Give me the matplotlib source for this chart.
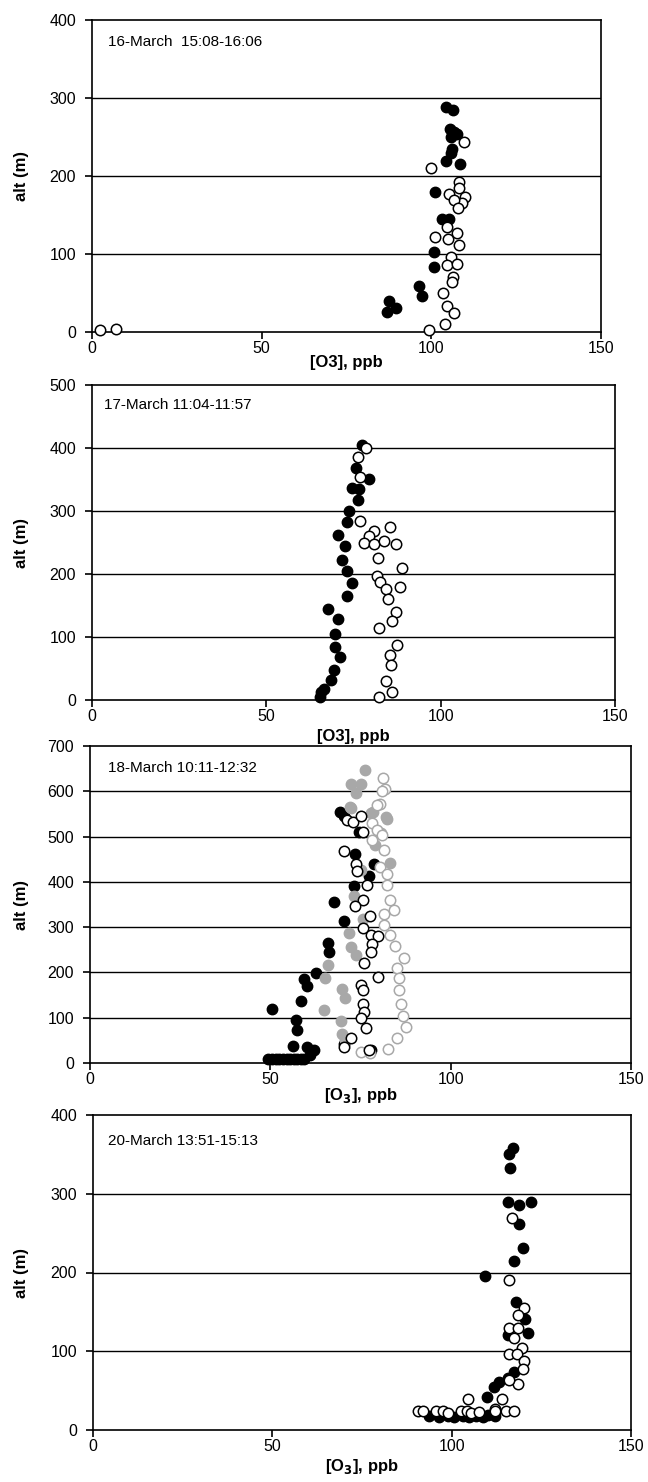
import matplotlib
matplotlib.use("Agg")
import matplotlib.pyplot as plt

plt.rcParams['font.family'] = ['Liberation Sans', 'DejaVu Sans']

# ---------------- Panel 1: 16-March ----------------
p1_fill_x = [104.3, 106.4, 105.6, 106.6, 105.9, 107.6, 106.1, 105.7, 104.3, 108.5,
             101.2, 103.0, 105.3, 100.7, 100.7, 96.5, 97.2, 87.6, 89.6, 86.9]
p1_fill_y = [288, 284, 260, 256, 250, 254, 234, 230, 219, 216,
             179, 145, 145, 103, 83, 59, 46, 40, 31, 26]
p1_open_x = [109.5, 100.0, 108.3, 108.3, 109.8, 105.1, 109.0, 106.6, 107.9, 104.6,
             101.2, 105.0, 107.6, 108.3, 105.9, 104.6, 107.6, 106.4, 106.1, 103.4,
             104.6, 106.6, 103.9, 99.4, 2.5, 7.2]
p1_open_y = [243, 210, 192, 185, 173, 177, 166, 169, 159, 134,
             122, 119, 127, 112, 96, 86, 87, 70, 64, 50,
             33, 24, 10, 3, 3, 4]

# ---------------- Panel 2: 17-March ----------------
p2_fill_x = [77.3, 75.8, 79.4, 74.6, 76.5, 76.3, 73.6, 73.0, 70.5, 72.7,
             71.7, 73.0, 74.6, 73.2, 67.6, 70.5, 69.8, 69.8, 71.1, 69.5,
             68.5, 66.5, 65.8, 65.5]
p2_fill_y = [405, 368, 351, 337, 335, 318, 300, 283, 262, 245,
             223, 205, 185, 165, 144, 128, 104, 84, 68, 48,
             32, 17, 12, 4]
p2_open_x = [78.7, 76.2, 76.8, 76.8, 81.0, 85.4, 79.4, 77.9, 80.8, 83.7,
             87.3, 82.0, 88.9, 81.6, 82.7, 88.3, 84.4, 84.8, 87.3, 86.1,
             82.2, 87.5, 85.4, 85.8, 84.3, 85.9, 82.2]
p2_open_y = [400, 386, 354, 284, 268, 275, 261, 249, 247, 253,
             248, 226, 209, 197, 188, 180, 176, 160, 139, 125,
             115, 88, 71, 55, 30, 12, 4]

# ---------------- Panel 3: 18-March ----------------
p3_fill_x = [69.4, 70.3, 74.6, 73.4, 78.8, 77.4, 73.1, 67.7, 70.5, 65.9,
             66.3, 62.6, 59.2, 60.1, 58.5, 50.6, 57.1, 57.4, 56.2, 60.1,
             62.2, 61.1, 77.9, 70.5,
             49.4, 50.5, 51.5, 52.5, 53.5, 54.5, 55.5, 56.5, 57.5, 58.5, 59.4]
p3_fill_y = [554, 545, 511, 462, 439, 412, 390, 356, 314, 265,
             245, 198, 185, 171, 138, 120, 96, 73, 38, 35,
             29, 18, 29, 42,
             9, 8, 9, 8, 9, 8, 9, 8, 9, 8, 9]
p3_gfill_x = [76.2, 72.5, 75.0, 72.0, 78.0, 82.2, 80.8, 79.0, 73.7, 72.5,
              78.6, 82.3, 75.1, 83.2, 73.2, 75.6, 71.9, 72.4, 73.7, 65.9,
              65.1, 70.0, 70.7, 65.0, 69.6, 70.0, 70.7]
p3_gfill_y = [646, 615, 615, 566, 553, 544, 508, 481, 596, 562,
              555, 539, 426, 441, 368, 319, 287, 256, 238, 216,
              188, 164, 143, 118, 93, 64, 51]
p3_open_x = [71.2, 72.8, 75.1, 75.6, 70.3, 73.7, 74.0, 76.9, 75.6, 73.4,
             77.7, 75.6, 77.9, 79.8, 78.1, 77.9, 76.0, 79.8, 75.1, 75.8,
             75.6, 76.0, 75.1, 76.5, 72.5, 70.5, 77.4]
p3_open_y = [536, 533, 545, 511, 468, 439, 423, 393, 359, 346,
             325, 298, 283, 280, 262, 245, 221, 189, 173, 161,
             131, 113, 100, 78, 55, 36, 29]
p3_gopen_x = [81.2, 81.7, 80.3, 80.9, 79.7, 78.3, 79.5, 80.9, 78.3, 81.4,
              80.4, 82.3, 82.3, 83.2, 84.3, 81.5, 81.5, 83.2, 84.6, 87.1,
              85.1, 85.7, 85.7, 86.2, 86.9, 87.5, 85.1, 82.7, 75.1, 77.7]
p3_gopen_y = [630, 604, 573, 600, 569, 529, 515, 504, 493, 470,
              432, 417, 393, 359, 337, 328, 305, 283, 258, 232,
              209, 187, 161, 131, 104, 79, 55, 30, 24, 21]

# ---------------- Panel 4: 20-March ----------------
p4_fill_x = [117.0, 116.1, 116.4, 115.6, 118.7, 122.1, 118.9, 120.0, 117.5, 109.4,
             118.0, 120.5, 115.6, 121.2, 117.5, 115.6, 113.3, 111.9, 109.8,
             93.8, 96.6, 98.9, 100.7, 103.1, 104.9, 106.8, 108.6, 110.0, 112.2]
p4_fill_y = [358, 350, 333, 289, 286, 289, 261, 231, 215, 195,
             163, 141, 121, 123, 74, 66, 61, 54, 42,
             18, 17, 18, 16, 18, 17, 18, 17, 19, 18]
p4_open_x = [116.8, 115.9, 120.3, 118.4, 116.1, 118.4, 117.5, 119.6, 116.1, 118.2,
             120.3, 119.8, 118.4, 115.9, 114.0, 112.2, 104.5,
             90.5, 91.9, 95.6, 97.5, 98.9, 102.6, 104.2, 105.4, 107.7, 112.2,
             115.1, 117.5]
p4_open_y = [269, 191, 155, 146, 129, 130, 117, 104, 97, 96,
             87, 77, 59, 64, 39, 27, 39,
             24, 24, 24, 24, 22, 24, 24, 22, 23, 24,
             24, 24]

titles = ["16-March  15:08-16:06", "17-March 11:04-11:57",
          "18-March 10:11-12:32", "20-March 13:51-15:13"]
xlabels = ["[O3], ppb", "[O3], ppb", "[O$_\\mathbf{3}$], ppb", "[O$_\\mathbf{3}$], ppb"]
ymax = [400, 500, 700, 400]

W, H = 648, 1482
fig = plt.figure(figsize=(W / 100, H / 100), dpi=100)

# axes boxes in pixels: left, right, top, bottom
boxes = [(92, 601, 20, 332), (92, 615, 385, 700), (90, 631, 746, 1063), (93, 631, 1115, 1430)]
labelpads = [-0.5, 3.5, -0.5, 2.5]
title_pos = [(0.032, 0.928), (0.022, 0.935), (0.033, 0.930), (0.028, 0.918)]

fill_kw = dict(marker='o', linestyle='none', ms=7.5, mfc='black', mec='black', mew=1.0)
open_kw = dict(marker='o', linestyle='none', ms=7.5, mfc='white', mec='black', mew=1.1)
gfill_kw = dict(marker='o', linestyle='none', ms=7.5, mfc='#a8a8a8', mec='#a8a8a8', mew=1.0)
gopen_kw = dict(marker='o', linestyle='none', ms=7.5, mfc='white', mec='#a8a8a8', mew=1.1)

axes = []
for i, (l, r, t, b) in enumerate(boxes):
    ax = fig.add_axes([l / W, 1 - b / H, (r - l) / W, (b - t) / H])
    axes.append(ax)
    ax.set_xlim(0, 150)
    ax.set_ylim(0, ymax[i])
    ax.set_xticks([0, 50, 100, 150])
    ax.set_yticks(list(range(0, ymax[i] + 1, 100)))
    for yv in range(100, ymax[i], 100):
        ax.axhline(yv, color='black', lw=1.0, zorder=1)
    for s in ax.spines.values():
        s.set_linewidth(1.2)
        s.set_color('black')
    ax.tick_params(direction='out', length=5, width=1.2, labelsize=11.5, colors='black',
                   top=False, right=False)
    ax.tick_params(axis='x', pad=1.5)
    ax.tick_params(axis='y', pad=6.5)
    ax.set_ylabel("alt (m)", fontsize=12, fontweight='bold')
    ax.yaxis.set_label_coords((29 - l) / (r - l), 0.5)
    ax.set_xlabel(xlabels[i], fontsize=12, fontweight='bold', labelpad=labelpads[i])
    ax.text(title_pos[i][0], title_pos[i][1], titles[i], transform=ax.transAxes,
            fontsize=11, ha='left', va='center')

a1, a2, a3, a4 = axes
a1.plot(p1_fill_x, p1_fill_y, zorder=3, clip_on=False, **fill_kw)
a1.plot(p1_open_x, p1_open_y, zorder=4, clip_on=False, **open_kw)

a2.plot(p2_fill_x, p2_fill_y, zorder=3, clip_on=False, **fill_kw)
a2.plot(p2_open_x, p2_open_y, zorder=4, clip_on=False, **open_kw)

a3.plot(p3_fill_x, p3_fill_y, zorder=3, clip_on=False, **fill_kw)
a3.plot(p3_gfill_x, p3_gfill_y, zorder=3, clip_on=False, **gfill_kw)
a3.plot(p3_gopen_x, p3_gopen_y, zorder=4, clip_on=False, **gopen_kw)
a3.plot(p3_open_x, p3_open_y, zorder=4, clip_on=False, **open_kw)

a4.plot(p4_fill_x, p4_fill_y, zorder=3, clip_on=False, **fill_kw)
a4.plot(p4_open_x, p4_open_y, zorder=4, clip_on=False, **open_kw)

fig.savefig("out.png", dpi=100)
